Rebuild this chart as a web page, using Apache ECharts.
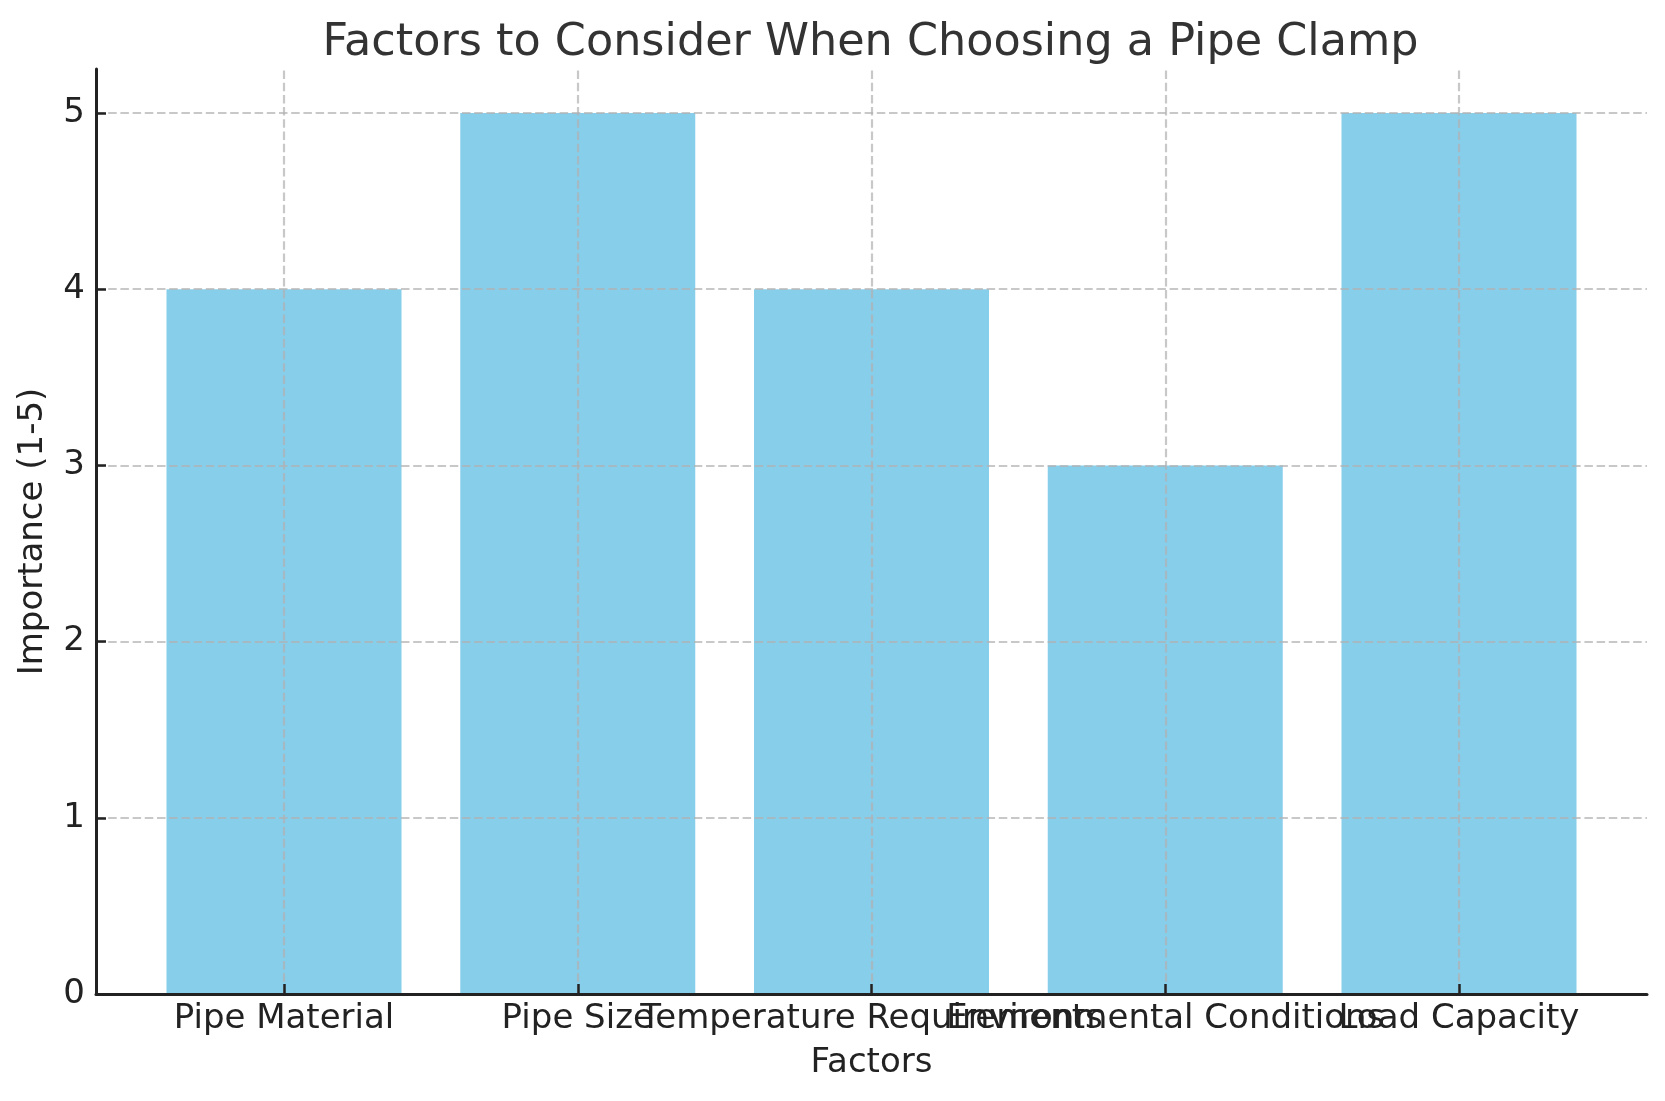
<!DOCTYPE html>
<html>
<head>
<meta charset="utf-8">
<script src="https://cdn.jsdelivr.net/npm/echarts@6/dist/echarts.min.js"></script>
<style>
  html, body { margin: 0; padding: 0; background: #fff; }
  #chart { width: 1665px; height: 1101px; }
</style>
</head>
<body>
<div id="chart"></div>
<script>
const categories = ["Pipe Material", "Pipe Size", "Temperature Requirements", "Environmental Conditions", "Load Capacity"];
const importance = [4, 5, 4, 3, 5];
const yTicks = [0, 1, 2, 3, 4, 5];

const positions = categories.map((_, i) => i);
const barData = positions.map((p, i) => [p, importance[i]]);
// labels split over two overlaid axes so overlapping labels are all kept
const evenPos = positions.filter(p => p % 2 === 0);
const oddPos = positions.filter(p => p % 2 === 1);

const gridLeft = 96, gridRight = 18, gridTop = 69, gridBottom = 107;
const xMin = -0.64, xMax = 4.64;
const plotW = 1665 - gridLeft - gridRight;
const barW = 0.8 * plotW / (xMax - xMin);

const gridLine = { color: 'rgba(176,176,176,0.7)', type: [8.5, 3.7], width: 2.2 };
const markLines = positions.map(p => ({ xAxis: p }))
  .concat(yTicks.map(v => ({ yAxis: v })));

const FONT = 'DejaVu Sans';
const labelStyle = { fontFamily: FONT, fontSize: 34, color: '#222' };

function xLabelAxis(vals, main) {
  return {
    type: 'value',
    min: xMin,
    max: xMax,
    position: 'bottom',
    z: 6,
    name: main ? 'Factors' : '',
    nameLocation: 'middle',
    nameGap: 52,
    nameTextStyle: labelStyle,
    axisLine: { show: main, onZero: false, lineStyle: { color: '#222', width: 3 } },
    axisTick: { show: main, inside: true, length: 10, customValues: positions, lineStyle: { color: '#222', width: 2.5 } },
    axisLabel: Object.assign({
      show: true, customValues: vals, margin: 8,
      hideOverlap: false, showMinLabel: true, showMaxLabel: true,
      formatter: v => categories[Math.round(v)] || ''
    }, labelStyle),
    splitLine: { show: false }
  };
}

const chart = echarts.init(document.getElementById('chart'));
chart.setOption({
  animation: false,
  backgroundColor: '#fff',
  title: {
    text: 'Factors to Consider When Choosing a Pipe Clamp',
    left: gridLeft + plotW / 2 - 6,
    textAlign: 'center',
    top: 16,
    textStyle: { fontFamily: FONT, fontSize: 44.5, fontWeight: 'normal', color: '#333' }
  },
  grid: { left: gridLeft, right: gridRight, top: gridTop, bottom: gridBottom, containLabel: false },
  xAxis: [xLabelAxis(evenPos, true), xLabelAxis(oddPos, false)],
  yAxis: {
    type: 'value',
    min: 0,
    max: 5.25,
    interval: 1,
    z: 6,
    name: 'Importance (1-5)',
    nameLocation: 'middle',
    nameGap: 46,
    nameTextStyle: labelStyle,
    axisLine: { show: true, onZero: false, lineStyle: { color: '#222', width: 3 } },
    axisTick: { show: true, inside: true, length: 10, customValues: yTicks, lineStyle: { color: '#222', width: 2.5 } },
    axisLabel: Object.assign({ show: true, customValues: yTicks, margin: 11 }, labelStyle),
    splitLine: { show: false }
  },
  series: [{
    type: 'bar',
    xAxisIndex: 0,
    data: barData,
    barWidth: barW,
    itemStyle: { color: '#87CEEB' },
    markLine: {
      silent: true,
      symbol: 'none',
      animation: false,
      label: { show: false },
      lineStyle: gridLine,
      emphasis: { disabled: true },
      data: markLines
    }
  }]
});
</script>
</body>
</html>
